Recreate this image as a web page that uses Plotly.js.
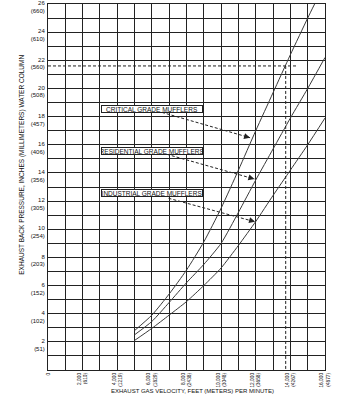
<!DOCTYPE html>
<html>
<head>
<meta charset="utf-8">
<script src="https://cdn.plot.ly/plotly-3.0.1.min.js"></script>
<style>html,body{margin:0;padding:0;background:#fff}#chart{width:352px;height:400px}</style>
</head>
<body>
<div id="chart"></div>
<script>
// Exhaust gas velocity, feet per minute
const velocity = [5000, 6000, 7000, 8000, 9000, 10000, 11000, 12000, 13000, 14000, 15000, 15400];
const velocityRes = [5000, 6000, 7000, 8000, 9000, 10000, 11000, 12000, 13000, 14000, 15000, 16000];
const velocityInd = [5000, 6000, 7000, 8000, 9000, 10000, 11000, 12000, 13000, 14000, 15000, 16000];
// Back pressure, inches water column
const criticalPressure = [2.8, 3.9, 5.4, 7.1, 9.1, 11.5, 14.2, 17.0, 19.7, 22.4, 25.0, 26.0];
const residentialPressure = [2.5, 3.45, 4.8, 6.2, 7.5, 9.0, 11.2, 13.5, 15.7, 17.9, 20.0, 22.2];
const industrialPressure = [2.1, 2.96, 3.9, 4.86, 6.0, 7.25, 8.85, 10.55, 12.4, 14.2, 16.0, 17.9];

const seriesNames = ['CRITICAL GRADE MUFFLERS', 'RESIDENTIAL GRADE MUFFLERS', 'INDUSTRIAL GRADE MUFFLERS'];

const xTickVals = [0, 2000, 4000, 6000, 8000, 10000, 12000, 14000, 16000];
const xTickText = ['0', '2,000<br>(610)', '4,000<br>(1219)', '6,000<br>(1829)', '8,000<br>(2438)', '10,000<br>(3048)', '12,000<br>(3658)', '14,000<br>(4267)', '16,000<br>(4877)'];
const yTickVals = [2, 4, 6, 8, 10, 12, 14, 16, 18, 20, 22, 24, 26];
const yTickText = ['2<br>(51)', '4<br>(102)', '6<br>(152)', '8<br>(203)', '10<br>(254)', '12<br>(305)', '14<br>(356)', '16<br>(406)', '18<br>(457)', '20<br>(508)', '22<br>(560)', '24<br>(610)', '26<br>(660)'];

// reference point: 13,700 ft/min at 21.6 in.
const refVelocity = [0, 14370];
const refPressure = [21.6, 21.6];
const refDropX = [13730, 13730];
const refDropY = [21.6, 0];

const FONT = 'Liberation Sans Narrow, Arial Narrow, Liberation Sans, Arial, sans-serif';
const lineStyle = {color: '#3a3a3a', width: 1};

const traces = [
  {x: velocity, y: criticalPressure, name: seriesNames[0], mode: 'lines', line: Object.assign({shape: 'spline', smoothing: 0.6}, lineStyle), hoverinfo: 'x+y'},
  {x: velocityRes, y: residentialPressure, name: seriesNames[1], mode: 'lines', line: Object.assign({shape: 'spline', smoothing: 0.6}, lineStyle), hoverinfo: 'x+y'},
  {x: velocityInd, y: industrialPressure, name: seriesNames[2], mode: 'lines', line: Object.assign({shape: 'spline', smoothing: 0.6}, lineStyle), hoverinfo: 'x+y'},
  {x: refVelocity, y: refPressure, mode: 'lines', line: {color: '#222', width: 1, dash: '3px,2px'}, hoverinfo: 'skip'},
  {x: refDropX, y: refDropY, mode: 'lines', line: {color: '#222', width: 1, dash: '3px,2px'}, hoverinfo: 'skip'}
];

// label boxes (centre) and arrows (tail -> tip), in data units
const labelPos = [[5980, 18.56], [6000, 15.59], [5980, 12.57]];
const arrowTail = [[6580, 18.3], [6870, 15.32], [6960, 12.2]];
const arrowTip = [[11670, 16.5], [11920, 13.57], [11960, 10.53]];

const annotations = [];
const shapes = [];
for (let i = 0; i < 3; i++) {
  annotations.push({
    x: labelPos[i][0], y: labelPos[i][1], xref: 'x', yref: 'y', text: seriesNames[i], showarrow: false,
    font: {family: FONT, size: 6.5, color: '#111'}, bgcolor: '#fff', bordercolor: '#222', borderwidth: 1,
    borderpad: 0, width: 100, height: 6
  });
  shapes.push({type: 'line', xref: 'x', yref: 'y', x0: arrowTail[i][0], y0: arrowTail[i][1], x1: arrowTip[i][0], y1: arrowTip[i][1],
    line: {color: '#222', width: 1, dash: '3px,2px'}});
  annotations.push({x: arrowTip[i][0], y: arrowTip[i][1], xref: 'x', yref: 'y', text: '', showarrow: true,
    ax: -7, ay: -2, arrowhead: 2, arrowsize: 1, arrowwidth: 1.2, arrowcolor: '#222'});
}
annotations.push({
  xref: 'paper', yref: 'paper', x: -0.095, y: 0.56, xanchor: 'center', yanchor: 'middle', textangle: -90, showarrow: false,
  text: 'EXHAUST BACK PRESSURE, INCHES (MILLIMETERS) WATER COLUMN', font: {family: FONT, size: 6.5, color: '#111'}
});
annotations.push({
  xref: 'paper', yref: 'paper', x: 0.52, y: -0.058, xanchor: 'center', yanchor: 'middle', showarrow: false,
  text: 'EXHAUST GAS VELOCITY, FEET (METERS) PER MINUTE)', font: {family: FONT, size: 6, color: '#111'}
});

const layout = {
  width: 352, height: 400,
  margin: {l: 48, r: 27, t: 4, b: 30},
  paper_bgcolor: '#fff', plot_bgcolor: '#fff',
  showlegend: false,
  font: {family: FONT, size: 6, color: '#111'},
  xaxis: {
    range: [0, 16000], tickmode: 'array', tickvals: xTickVals, ticktext: xTickText, tickangle: -90,
    showgrid: true, gridcolor: '#222', gridwidth: 1, zeroline: false,
    minor: {dtick: 1000, showgrid: true, gridcolor: '#222', gridwidth: 1},
    showline: true, linecolor: '#222', linewidth: 1, mirror: true, ticks: '',
    ticklabeloverflow: 'allow', ticklabelstandoff: 0,
    tickfont: {family: FONT, size: 4.8, color: '#111'}
  },
  yaxis: {
    range: [0, 26], tickmode: 'array', tickvals: yTickVals, ticktext: yTickText,
    showgrid: true, gridcolor: '#222', gridwidth: 1, zeroline: false,
    minor: {dtick: 1, showgrid: true, gridcolor: '#222', gridwidth: 1},
    showline: true, linecolor: '#222', linewidth: 1, mirror: true, ticks: '',
    ticklabelshift: 3, ticklabelstandoff: 1, ticklabeloverflow: 'allow',
    tickfont: {family: FONT, size: 6, color: '#111'}
  },
  annotations: annotations,
  shapes: shapes
};

Plotly.newPlot('chart', traces, layout, {displayModeBar: false, staticPlot: true});
</script>
</body>
</html>
